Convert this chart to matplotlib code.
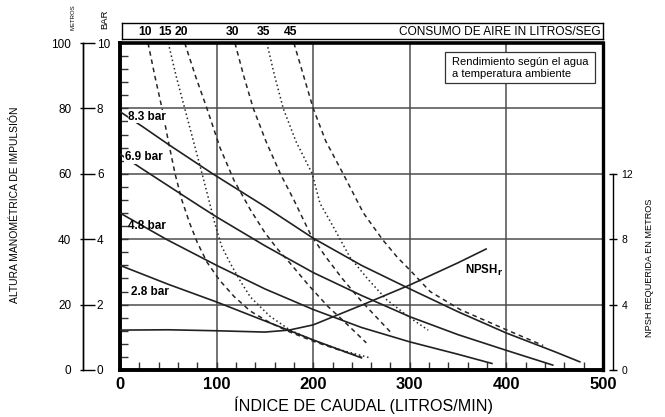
import numpy as np
import matplotlib.pyplot as plt
from matplotlib.ticker import MultipleLocator, FixedLocator
from matplotlib.patches import Rectangle
from matplotlib.transforms import blended_transform_factory

plt.rcParams.update({"font.family": ["Liberation Sans", "DejaVu Sans"], "font.size": 8})

# pump curves: flow (l/min) vs discharge head (m)
flow_83 = [0, 24, 50, 96, 150, 200, 250, 300, 350, 400, 450, 476]
head_83 = [79, 74.3, 69, 60, 50, 40.3, 32, 24.8, 17.8, 11.3, 5.6, 2.5]
flow_69 = [0, 24, 83, 100, 150, 200, 250, 300, 350, 400, 448]
head_69 = [66, 61.3, 50, 46.8, 38, 29.8, 22.8, 16.3, 10.8, 6, 1.5]
flow_48 = [0, 49, 100, 150, 200, 250, 300, 350, 385]
head_48 = [48, 39.8, 32, 24.8, 18.5, 13, 8.6, 4.8, 2]
flow_28 = [0, 50, 100, 150, 200, 250]
head_28 = [32, 26.2, 20.8, 15, 9.2, 3.7]
pressure_labels = ["8.3 bar", "6.9 bar", "4.8 bar", "2.8 bar"]

# NPSH required (m)
flow_npsh = [0, 50, 100, 150, 175, 200, 250, 300, 350, 379]
npsh = [2.44, 2.46, 2.4, 2.32, 2.44, 2.76, 3.96, 5.2, 6.56, 7.4]

# air consumption lines (l/s)
air_labels = ["10", "15", "20", "30", "35", "45"]
air_flow = [
    [29, 36, 43.5, 50, 57, 64, 72, 80, 90, 103, 118, 135, 155, 176, 200, 225, 250],
    [50, 58, 67, 76, 85, 92, 98, 105, 114, 125, 135, 155, 176, 204, 230, 259],
    [67, 78, 90, 103.5, 118, 135, 150, 163, 176, 195, 215, 235, 255],
    [119, 128, 138, 151, 166, 180, 197, 212, 230, 250, 280],
    [152, 160, 169, 182, 199, 207, 221, 238, 256, 276, 300, 319],
    [180, 190, 200, 213, 231, 252, 272, 287, 300, 321, 352, 400, 438],
]
air_head = [
    [100, 90, 80, 70, 60, 52, 45, 39, 33, 27.5, 22.5, 18, 14.5, 11.6, 8.8, 6.3, 4],
    [100, 90, 80, 70, 60, 52, 45, 38, 32.7, 27, 22.3, 16.5, 12.2, 8.6, 6, 3.7],
    [100, 90, 80, 68, 58, 49, 42, 37, 32.7, 26, 19.5, 14, 8.3],
    [100, 90, 80, 70, 60, 52, 41.6, 35, 28, 21, 11.6],
    [100, 90, 80, 70, 60, 51, 43.7, 34.5, 28, 21.5, 16, 12.2],
    [100, 90, 80, 70, 60, 48, 39.8, 34.5, 30.6, 24, 18.5, 12.3, 7.5],
]
air_dash = [(3, 2.5), (1, 1.8), (3, 2.5), (3, 2.5), (1, 1.8), (3, 2.5)]

W, H = 665, 417


def fx(px):
    return px / W


def fy(py):
    return 1 - py / H


fig = plt.figure(figsize=(W / 100, H / 100), dpi=100)
ax = fig.add_axes([fx(120), fy(370), fx(603) - fx(120), fy(43) - fy(370)])
ax.set_xlim(0, 500)
ax.set_ylim(0, 100)
ax.set_axisbelow(True)

ax.xaxis.set_major_locator(MultipleLocator(100))
ax.xaxis.set_minor_locator(MultipleLocator(20))
ax.yaxis.set_major_locator(MultipleLocator(20))
ax.yaxis.set_minor_locator(MultipleLocator(4))
ax.grid(True, which="major", color="0.3", lw=1.1)
ax.tick_params(which="both", direction="in", length=6, width=1, color="0.2",
               top=False, right=False)
ax.tick_params(axis="y", labelleft=False)
ax.tick_params(axis="x", labelsize=12, pad=5)
for lab in ax.get_xticklabels():
    lab.set_fontweight("bold")
for side, lw in [("left", 2.8), ("bottom", 2.8), ("top", 2.6), ("right", 2.4)]:
    ax.spines[side].set_linewidth(lw)

curve_kw = dict(color="0.13", lw=1.2, zorder=3)
ax.plot(flow_83, head_83, **curve_kw)
ax.plot(flow_69, head_69, **curve_kw)
ax.plot(flow_48, head_48, **curve_kw)
ax.plot(flow_28, head_28, **curve_kw)

for fl, hd, dash in zip(air_flow, air_head, air_dash):
    ax.plot(fl, hd, color="0.15", lw=1.1, dashes=dash, zorder=2)

lab_kw = dict(fontsize=8.5, fontweight="bold", va="center", zorder=4)
white = dict(facecolor="white", edgecolor="none", pad=0.3)
ax.text(8.3, 77.4, pressure_labels[0], bbox=white, **lab_kw)
ax.text(5, 65, pressure_labels[1], bbox=white, **lab_kw)
ax.text(8.3, 44, pressure_labels[2], **lab_kw)
ax.text(11, 24, pressure_labels[3], **lab_kw)

# NPSH on its own scale (12 m NPSH = 60 m head)
tw = ax.twinx()
tw.set_ylim(0, 20)
tw.plot(flow_npsh, npsh, color="0.13", lw=1.2)
tw.spines["right"].set_position(("axes", (613 - 120) / 483))
tw.spines["right"].set_bounds(0, 12)
tw.spines["right"].set_linewidth(1)
for side in ["left", "top", "bottom"]:
    tw.spines[side].set_visible(False)
tw.yaxis.set_major_locator(FixedLocator([0, 4, 8, 12]))
tw.tick_params(axis="y", direction="inout", length=6, width=1, labelsize=7.5, pad=3)
tw.text(377, 6.1, r"NPSH$_\mathbf{r}$", fontsize=8.3, fontweight="bold",
        ha="center", va="center")

# left scales: metres and bar
loc = (83 - 120) / 483
sm = ax.secondary_yaxis(loc)
sm.yaxis.set_major_locator(FixedLocator([0, 20, 40, 60, 80, 100]))
sm.tick_params(direction="out", length=2.5, width=1, labelsize=8.5, pad=6)
sm.spines["left"].set_linewidth(1)
sb = ax.secondary_yaxis(loc, functions=(lambda m: m / 10, lambda b: b * 10))
sb.set_alignment("right")
sb.yaxis.set_major_locator(FixedLocator([0, 2, 4, 6, 8, 10]))
sb.tick_params(direction="out", length=8.5, width=1, labelsize=8.5, pad=1.5)
sb.spines["right"].set_linewidth(1)

fig.text(fx(73), fy(17), "METROS", rotation=90, fontsize=4.3, ha="center", va="center")
fig.text(fx(105), fy(19), "BAR", rotation=90, fontsize=6.8, ha="center", va="center")
fig.text(fx(15), fy(205), "ALTURA MANOMÉTRICA DE IMPULSIÓN", rotation=90,
         fontsize=7.5, ha="center", va="center")
fig.text(fx(650), fy(268), "NPSH REQUERIDA EN METROS", rotation=90,
         fontsize=6.6, ha="center", va="center")
fig.text(fx(364), fy(405), "ÍNDICE DE CAUDAL (LITROS/MIN)", fontsize=11.6,
         ha="center", va="center")

# air consumption header box
bx = fig.add_axes([fx(122), fy(39), fx(603) - fx(122), fy(23) - fy(39)])
bx.set_xticks([])
bx.set_yticks([])
for s in bx.spines.values():
    s.set_linewidth(1)
tr = blended_transform_factory(ax.transData, bx.transAxes)
for lab, fl in zip(air_labels, air_flow):
    bx.text(fl[0] - 3, 0.45, lab, transform=tr, fontsize=8.7, fontweight="bold",
            ha="center", va="center")
bx.text(0.995, 0.45, "CONSUMO DE AIRE IN LITROS/SEG", transform=bx.transAxes,
        fontsize=8.6, ha="right", va="center")

# note box
fig.add_artist(Rectangle((fx(445), fy(83)), fx(595) - fx(445), fy(52) - fy(83),
                         transform=fig.transFigure, facecolor="white",
                         edgecolor="0.2", lw=0.9, zorder=5))
fig.text(fx(452), fy(62), "Rendimiento según el agua", fontsize=8, va="center", zorder=6)
fig.text(fx(452), fy(74), "a temperatura ambiente", fontsize=8, va="center", zorder=6)

fig.savefig("out.png", dpi=100)
